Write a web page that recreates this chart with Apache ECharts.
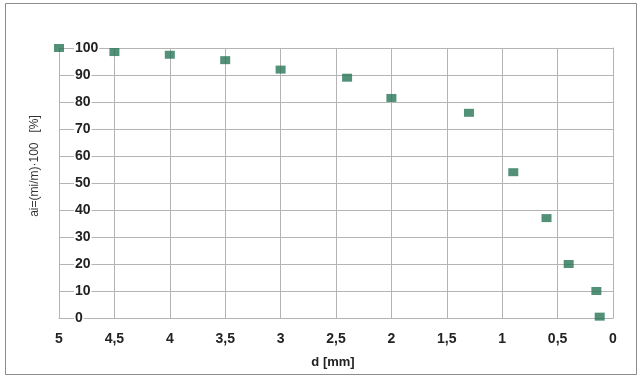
<!DOCTYPE html>
<html>
<head>
<meta charset="utf-8">
<script src="https://cdn.jsdelivr.net/npm/echarts@6/dist/echarts.min.js"></script>
<style>
  html, body {margin: 0; padding: 0; background: #fff;}
  #chart {width: 639px; height: 378px;}
</style>
</head>
<body>
<div id="chart"></div>
<script>
// grain size d [mm] and cumulative passing ai [%]
const dValues = [5, 4.5, 4, 3.5, 3, 2.4, 2, 1.3, 0.9, 0.6, 0.4, 0.15, 0.12]
const aiValues = [100, 98.5, 97.5, 95.5, 92, 89, 81.5, 76, 54, 37, 20, 10, 0.5]
const xTicks = [0, 0.5, 1, 1.5, 2, 2.5, 3, 3.5, 4, 4.5, 5]
const yTicks = [0, 10, 20, 30, 40, 50, 60, 70, 80, 90, 100]

const points = dValues.map((d, i) => [d, aiValues[i]])

const myChart = echarts.init(document.getElementById('chart'))
const labelFont = {
    color: '#222',
    fontFamily: 'Liberation Sans, Arial, sans-serif',
    fontWeight: 'bold',
    fontSize: 14
}
const gridColor = '#b4b4b4'

const option = {
    animation: false,
    grid: {left: 59, right: 26, top: 48, bottom: 60},
    xAxis: {
        type: 'value',
        inverse: true,
        min: xTicks[0],
        max: xTicks[xTicks.length - 1],
        interval: 0.5,
        name: 'd [mm]',
        nameLocation: 'middle',
        nameGap: 38,
        nameTextStyle: {...labelFont, fontSize: 13, padding: [0, 6, 0, 0]},
        axisLine: {show: true, lineStyle: {color: gridColor}},
        axisTick: {show: false},
        splitLine: {show: true, lineStyle: {color: gridColor, width: 1}},
        axisLabel: {
            ...labelFont,
            margin: 14,
            formatter: v => String(v).replace('.', ',')
        }
    },
    yAxis: {
        type: 'value',
        min: yTicks[0],
        max: yTicks[yTicks.length - 1],
        interval: 10,
        name: 'ai=(mi/m)·100   [%]',
        nameLocation: 'middle',
        nameGap: 18,
        nameRotate: 90,
        nameTextStyle: {...labelFont, fontSize: 12, fontWeight: 'normal', color: '#333', padding: [0, 0, 0, 34]},
        axisLine: {show: true, lineStyle: {color: gridColor}},
        axisTick: {show: false},
        splitLine: {show: true, lineStyle: {color: gridColor, width: 1}},
        axisLabel: {
            ...labelFont,
            inside: true,
            margin: 15,
            backgroundColor: '#fff',
            padding: [0, 1, 0, 1]
        }
    },
    graphic: [{
        type: 'rect',
        shape: {x: 5.5, y: 3.5, width: 631, height: 371},
        style: {fill: 'none', stroke: '#8c8c8c', lineWidth: 1},
        silent: true,
        z: -1
    }],
    series: [{
        type: 'scatter',
        data: points,
        symbol: 'rect',
        symbolSize: [10, 8],
        itemStyle: {color: '#277556'},
        z: 5
    }]
}
myChart.setOption(option)
</script>
</body>
</html>
